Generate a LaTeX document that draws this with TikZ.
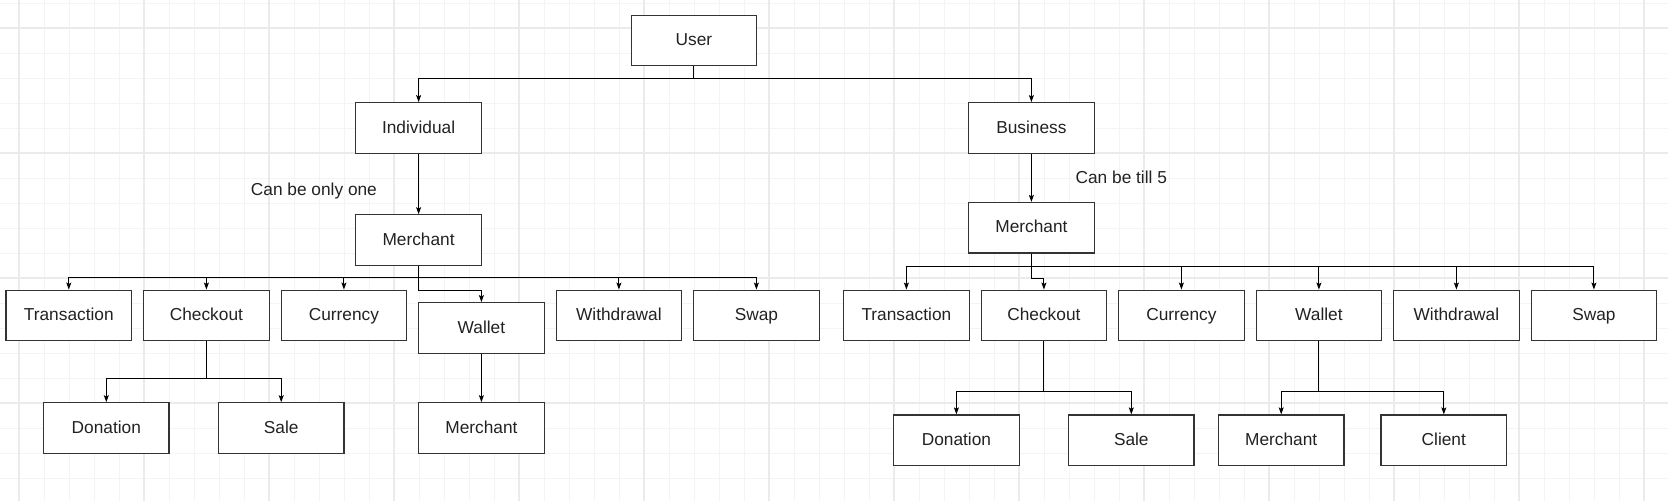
\documentclass[tikz,border=0pt]{standalone}
\usepackage{fontspec}
\setmainfont{Liberation Sans}
\usetikzlibrary{arrows.meta}
\definecolor{gridminor}{HTML}{F4F4F4}
\definecolor{gridmajor}{HTML}{EBEBEB}
\definecolor{boxline}{HTML}{333333}
\definecolor{txt}{HTML}{222222}
\tikzset{
  box/.style={draw=boxline, line width=1.2pt, fill=white, minimum width=125.5pt, minimum height=50.5pt, inner sep=0pt, text=txt, font=\fontsize{17.3}{20}\selectfont, text height=13.2pt, text depth=2.8pt},
  conn/.style={draw=black, line width=0.9pt, -{Stealth[length=7pt,width=5pt,inset=1.5pt]}},
  lbl/.style={inner sep=0pt, anchor=west, text=txt, font=\fontsize{17.3}{20}\selectfont, text height=13.2pt, text depth=2.8pt},
  gminor/.style={draw=gridminor, line width=1pt},
  gmajor/.style={draw=gridmajor, line width=1.3pt}
}
\begin{document}
\begin{tikzpicture}[x=1pt,y=-1pt]
\useasboundingbox (0,0) rectangle (1668,501);
\fill[white] (0,0) rectangle (1668,501);
% grid
\foreach \i in {0,...,65} \draw[gminor] ({19+25*\i},0) -- ({19+25*\i},501);
\foreach \i in {0,...,19} \draw[gminor] (0,{3+25*\i}) -- (1668,{3+25*\i});
\foreach \i in {0,...,13} \draw[gmajor] ({19+125*\i},0) -- ({19+125*\i},501);
\foreach \i in {0,...,3} \draw[gmajor] (0,{28+125*\i}) -- (1668,{28+125*\i});

% nodes
\node[box] (user) at (693.9,40.5) {User};
\node[box] (ind) at (418.6,127.9) {Individual};
\node[box] (bus) at (1031.4,127.9) {Business};
\node[box] (mL) at (418.6,240) {Merchant};
\node[box] (mR) at (1031.4,227.7) {Merchant};

\node[box] (transL) at (68.8,315.4) {Transaction};
\node[box] (checkL) at (206.4,315.4) {Checkout};
\node[box] (curL) at (343.9,315.4) {Currency};
\node[box] (walL) at (481.4,327.9) {Wallet};
\node[box] (withL) at (618.9,315.4) {Withdrawal};
\node[box] (swapL) at (756.4,315.4) {Swap};

\node[box] (donL) at (106.3,428) {Donation};
\node[box] (saleL) at (281.2,428) {Sale};
\node[box] (mwL) at (481.4,428) {Merchant};

\node[box] (transR) at (906.4,315.4) {Transaction};
\node[box] (checkR) at (1043.9,315.4) {Checkout};
\node[box] (curR) at (1181.4,315.4) {Currency};
\node[box] (walR) at (1318.9,315.4) {Wallet};
\node[box] (withR) at (1456.4,315.4) {Withdrawal};
\node[box] (swapR) at (1593.9,315.4) {Swap};

\node[box] (donR) at (956.4,440.2) {Donation};
\node[box] (saleR) at (1131.3,440.2) {Sale};
\node[box] (mwR) at (1281.2,440.2) {Merchant};
\node[box] (client) at (1443.8,440.2) {Client};

\node[lbl] (lblL) at (250.7,190) {Can be only one};
\node[lbl] (lblR) at (1075.4,178) {Can be till 5};

% connectors
\draw[conn] (user.south) -- ++(0,11.7) -| (ind.north);
\draw[conn] (user.south) -- ++(0,11.7) -| (bus.north);
\draw[conn] (ind.south) -- (mL.north);
\draw[conn] (bus.south) -- (mR.north);

\foreach \c in {transL,checkL,curL,withL,swapL}
  \draw[conn] (mL.south) -- ++(0,12) -| (\c.north);
\draw[conn] (mL.south) -- ++(0,25) -| (walL.north);
\draw[conn] (checkL.south) -- ++(0,36.7) -| (donL.north);
\draw[conn] (checkL.south) -- ++(0,36.7) -| (saleL.north);
\draw[conn] (walL.south) -- (mwL.north);

\foreach \c in {transR,curR,walR,withR,swapR}
  \draw[conn] (mR.south) -- ++(0,12.4) -| (\c.north);
\draw[conn] (mR.south) -- ++(0,25) -| (checkR.north);
\draw[conn] (checkR.south) -- ++(0,49.7) -| (donR.north);
\draw[conn] (checkR.south) -- ++(0,49.7) -| (saleR.north);
\draw[conn] (walR.south) -- ++(0,49.7) -| (mwR.north);
\draw[conn] (walR.south) -- ++(0,49.7) -| (client.north);
\end{tikzpicture}
\end{document}
